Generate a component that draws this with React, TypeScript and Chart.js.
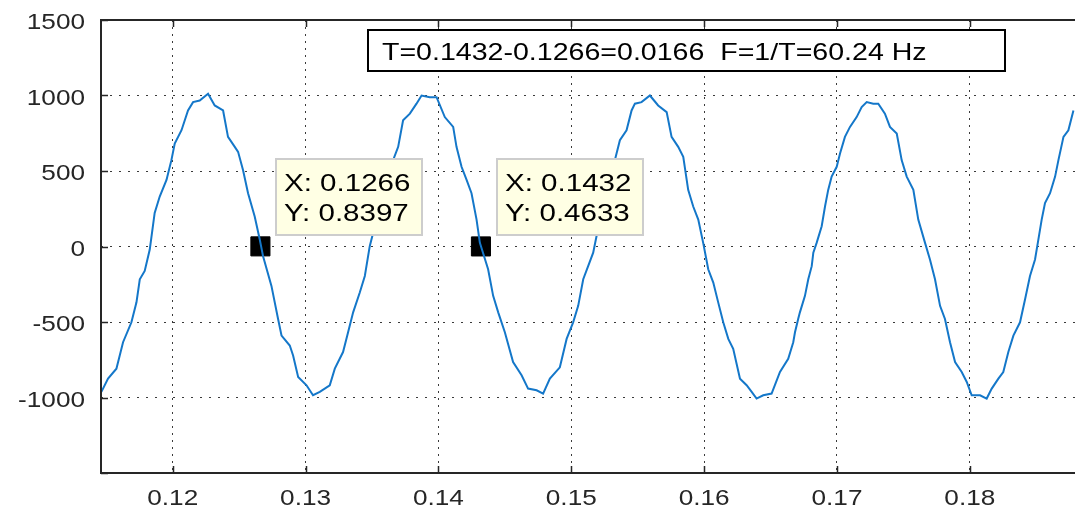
import React, { useEffect, useRef } from "react";
import { Chart, registerables } from "chart.js";

Chart.register(...registerables);

// ---- data ----
const timeS = [
  0.11463, 0.11513, 0.11576, 0.11626, 0.11689, 0.11727, 0.11752, 0.11789, 0.11827, 0.11864,
  0.11902, 0.11953, 0.1199, 0.12015, 0.12066, 0.12115, 0.12153, 0.12203, 0.12266, 0.12316,
  0.12379, 0.12416, 0.12467, 0.12492, 0.12529, 0.12567, 0.12617, 0.12655, 0.1268, 0.12743,
  0.12793, 0.12819, 0.12881, 0.12906, 0.12944, 0.13007, 0.13056, 0.13107, 0.13182, 0.1322,
  0.13282, 0.1332, 0.13358, 0.13408, 0.13446, 0.13483, 0.13521, 0.13559, 0.13609, 0.13659,
  0.13697, 0.13734, 0.13785, 0.13835, 0.13873, 0.13935, 0.13986, 0.14048, 0.14111, 0.14136,
  0.14174, 0.14212, 0.14249, 0.14287, 0.14312, 0.14374, 0.14412, 0.1445, 0.145, 0.14562,
  0.14626, 0.14675, 0.14739, 0.14788, 0.14839, 0.14914, 0.14965, 0.15014, 0.15052, 0.1509,
  0.15127, 0.15165, 0.1519, 0.1524, 0.15283, 0.15328, 0.15366, 0.15416, 0.15454, 0.15479,
  0.15529, 0.15592, 0.15654, 0.15718, 0.15755, 0.15805, 0.15843, 0.1588, 0.15918, 0.15956,
  0.15993, 0.16031, 0.16069, 0.16106, 0.16144, 0.16182, 0.16219, 0.1627, 0.1632, 0.16358,
  0.16395, 0.16445, 0.16508, 0.16571, 0.16633, 0.16671, 0.16684, 0.16708, 0.16721, 0.16759,
  0.16784, 0.1681, 0.16822, 0.16847, 0.16885, 0.1691, 0.16934, 0.1696, 0.16998, 0.17023,
  0.1706, 0.17098, 0.17148, 0.17186, 0.17224, 0.17273, 0.17311, 0.17361, 0.17399, 0.1745,
  0.17487, 0.17525, 0.17575, 0.17612, 0.17663, 0.177, 0.17738, 0.17776, 0.17813, 0.17851,
  0.17889, 0.17939, 0.17977, 0.18014, 0.18077, 0.18127, 0.18165, 0.18215, 0.18252, 0.1829,
  0.18328, 0.18378, 0.18416, 0.18453, 0.18491, 0.18516, 0.18541, 0.18566, 0.18604, 0.18642,
  0.18667, 0.18705, 0.18742, 0.1878,
];

const amplitude = [
  -963, -875, -809, -634, -502, -370, -217, -162, -20, 222,
  331, 441, 572, 682, 770, 901, 956, 967, 1011, 934,
  901, 726, 660, 627, 507, 353, 199, 46, -64, -261,
  -480, -590, -656, -722, -864, -919, -985, -963, -919, -809,
  -699, -568, -436, -305, -195, 2, 134, 353, 465, 572,
  660, 836, 880, 946, 1000, 989, 989, 857, 792, 660,
  528, 441, 353, 178, 24, -151, -327, -436, -568, -765,
  -853, -941, -952, -974, -875, -800, -612, -502, -393, -217,
  -130, -41, 68, 265, 420, 572, 704, 770, 901, 946,
  956, 1000, 934, 890, 726, 660, 594, 375, 265, 178,
  24, -151, -239, -370, -502, -612, -678, -875, -919, -963,
  -1007, -985, -974, -831, -744, -634, -568, -480, -436, -327,
  -217, -130, -41, 24, 134, 265, 375, 463, 528, 616,
  726, 792, 857, 923, 956, 946, 946, 880, 792, 748,
  572, 463, 375, 178, 24, -86, -217, -393, -480, -634,
  -765, -831, -897, -985, -985, -1007, -941, -875, -831, -699,
  -590, -502, -349, -195, -86, 46, 178, 287, 353, 463,
  572, 726, 770, 901,
];

const cursorX = [0.1266, 0.1432];
const cursorY = [0.8397, 0.4633];
const cursorLabels = [
  ["X: 0.1266", "Y: 0.8397"],
  ["X: 0.1432", "Y: 0.4633"],
];

const xTicks = [0.12, 0.13, 0.14, 0.15, 0.16, 0.17, 0.18];
const xTickLabels = ["0.12", "0.13", "0.14", "0.15", "0.16", "0.17", "0.18"];
const yTicks = [-1500, -1000, -500, 0, 500, 1000, 1500];
const yTickLabels = ["", "-1000", "-500", "0", "500", "1000", "1500"];
const infoText = "T=0.1432-0.1266=0.0166  F=1/T=60.24 Hz";

const X_MIN = 0.1146;
const X_MAX = 0.1898;
const Y_MIN = -1500;
const Y_MAX = 1500;

// ---- styling ----
const FONT = '"Liberation Sans", Arial, Helvetica, sans-serif';
const SX = 1.19;
const AXIS_COLOR = "#262626";
const CANVAS_W = 1100;
const CANVAS_H = 512;

function drawText(
  ctx: CanvasRenderingContext2D,
  text: string,
  x: number,
  y: number,
  size: number,
  align: "left" | "right" | "center",
  color: string,
  sx: number = SX
) {
  ctx.save();
  ctx.font = `${size}px ${FONT}`;
  const w = ctx.measureText(text).width * sx;
  let left = x;
  if (align === "right") left = x - w;
  else if (align === "center") left = x - w / 2;
  ctx.translate(left, y);
  ctx.scale(sx, 1);
  ctx.textAlign = "left";
  ctx.textBaseline = "alphabetic";
  ctx.fillStyle = color;
  ctx.fillText(text, 0, 0);
  ctx.restore();
  return w;
}

const decorPlugin = {
  id: "decor",
  afterDraw(chart: any) {
    const ctx: CanvasRenderingContext2D = chart.ctx;
    const xs = chart.scales.x;
    const ys = chart.scales.y;
    const ca = chart.chartArea;
    const TIP_SX = 1.23;

    // data tips
    for (let i = 0; i < cursorX.length; i++) {
      const px = xs.getPixelForValue(cursorX[i]);
      const py = ys.getPixelForValue(cursorY[i]);
      ctx.save();
      ctx.font = `24px ${FONT}`;
      const tw = Math.max(...cursorLabels[i].map((t) => ctx.measureText(t).width)) * TIP_SX;
      ctx.restore();
      const left = Math.round(px + 16);
      const top = Math.round(py - 87);
      const w = Math.round(tw + 20);
      const h = 76;
      ctx.save();
      ctx.fillStyle = "#ffffe4";
      ctx.fillRect(left, top, w, h);
      ctx.strokeStyle = "#cdcdcd";
      ctx.lineWidth = 2;
      ctx.strokeRect(left, top, w, h);
      ctx.restore();
      drawText(ctx, cursorLabels[i][0], left + 8, top + 32, 24, "left", "#000", TIP_SX);
      drawText(ctx, cursorLabels[i][1], left + 8, top + 62, 24, "left", "#000", TIP_SX);
    }

    // axes box
    ctx.save();
    ctx.strokeStyle = AXIS_COLOR;
    ctx.lineWidth = 2;
    ctx.beginPath();
    ctx.moveTo(ca.left, ca.top);
    ctx.lineTo(ca.right, ca.top);
    ctx.lineTo(ca.right, ca.bottom);
    ctx.lineTo(ca.left, ca.bottom);
    ctx.closePath();
    ctx.stroke();

    // inward tick marks
    ctx.lineWidth = 1.5;
    const TL = 7;
    ctx.beginPath();
    for (const v of xTicks) {
      const px = Math.round(xs.getPixelForValue(v)) + 0.5;
      ctx.moveTo(px, ca.bottom);
      ctx.lineTo(px, ca.bottom - TL);
      ctx.moveTo(px, ca.top);
      ctx.lineTo(px, ca.top + TL);
    }
    for (const v of yTicks) {
      const py = Math.round(ys.getPixelForValue(v)) + 0.5;
      ctx.moveTo(ca.left, py);
      ctx.lineTo(ca.left + TL, py);
      ctx.moveTo(ca.right, py);
      ctx.lineTo(ca.right - TL, py);
    }
    ctx.stroke();
    ctx.restore();

    // tick labels
    for (let i = 0; i < xTicks.length; i++) {
      const px = xs.getPixelForValue(xTicks[i]);
      drawText(ctx, xTickLabels[i], px, ca.bottom + 32, 22, "center", AXIS_COLOR);
    }
    for (let i = 0; i < yTicks.length; i++) {
      if (!yTickLabels[i]) continue;
      const py = ys.getPixelForValue(yTicks[i]);
      drawText(ctx, yTickLabels[i], 85, py + 9, 22, "right", AXIS_COLOR);
    }

    // info box
    ctx.save();
    ctx.fillStyle = "#ffffff";
    ctx.fillRect(368, 30, 637, 41);
    ctx.strokeStyle = "#000";
    ctx.lineWidth = 2;
    ctx.strokeRect(368, 30, 637, 41);
    ctx.restore();
    drawText(ctx, infoText, 382, 60, 24, "left", "#000");
  },
};

export default function App() {
  const canvasRef = useRef<HTMLCanvasElement | null>(null);

  useEffect(() => {
    if (!canvasRef.current) return;
    const lineData = timeS.map((t, i) => ({ x: t, y: amplitude[i] }));
    const markerData = cursorX.map((t, i) => ({ x: t, y: cursorY[i] }));
    const chart = new Chart(canvasRef.current, {
      type: "line",
      data: {
        datasets: [
          {
            data: lineData,
            borderColor: "#1477c9",
            borderWidth: 2,
            pointRadius: 0,
            tension: 0,
            fill: false,
          },
          {
            data: markerData,
            showLine: false,
            pointStyle: "rect",
            pointRadius: 13.5,
            pointBackgroundColor: "#000",
            pointBorderColor: "#000",
            pointBorderWidth: 1,
          },
        ],
      },
      options: {
        animation: false,
        responsive: false,
        maintainAspectRatio: false,
        devicePixelRatio: 1,
        layout: { autoPadding: false, padding: { top: 20, left: 0, right: 0, bottom: 0 } },
        plugins: {
          legend: { display: false },
          tooltip: { enabled: false },
        },
        events: [],
        scales: {
          x: {
            type: "linear",
            min: X_MIN,
            max: X_MAX,
            afterBuildTicks: (scale: any) => {
              scale.ticks = xTicks.map((v) => ({ value: v }));
            },
            afterFit: (scale: any) => {
              scale.height = 39;
              scale.paddingLeft = 0;
              scale.paddingRight = 0;
            },
            ticks: { display: false },
            border: { display: false, dash: [2, 5] },
            grid: { color: "#3a3a3a", lineWidth: 1, drawTicks: false },
          },
          y: {
            type: "linear",
            min: Y_MIN,
            max: Y_MAX,
            afterBuildTicks: (scale: any) => {
              scale.ticks = yTicks.map((v) => ({ value: v }));
            },
            afterFit: (scale: any) => {
              scale.width = 101;
              scale.paddingTop = 0;
              scale.paddingBottom = 0;
            },
            ticks: { display: false },
            border: { display: false, dash: [2, 7] },
            grid: { color: "#3a3a3a", lineWidth: 1, drawTicks: false },
          },
        },
      } as any,
      plugins: [decorPlugin],
    });
    return () => chart.destroy();
  }, []);

  return (
    <div
      style={{
        position: "fixed",
        left: 0,
        top: 0,
        width: "1075px",
        height: "512px",
        overflow: "hidden",
        background: "#fff",
      }}
    >
      <canvas
        ref={canvasRef}
        width={CANVAS_W}
        height={CANVAS_H}
        style={{ display: "block", width: CANVAS_W + "px", height: CANVAS_H + "px" }}
      />
    </div>
  );
}
